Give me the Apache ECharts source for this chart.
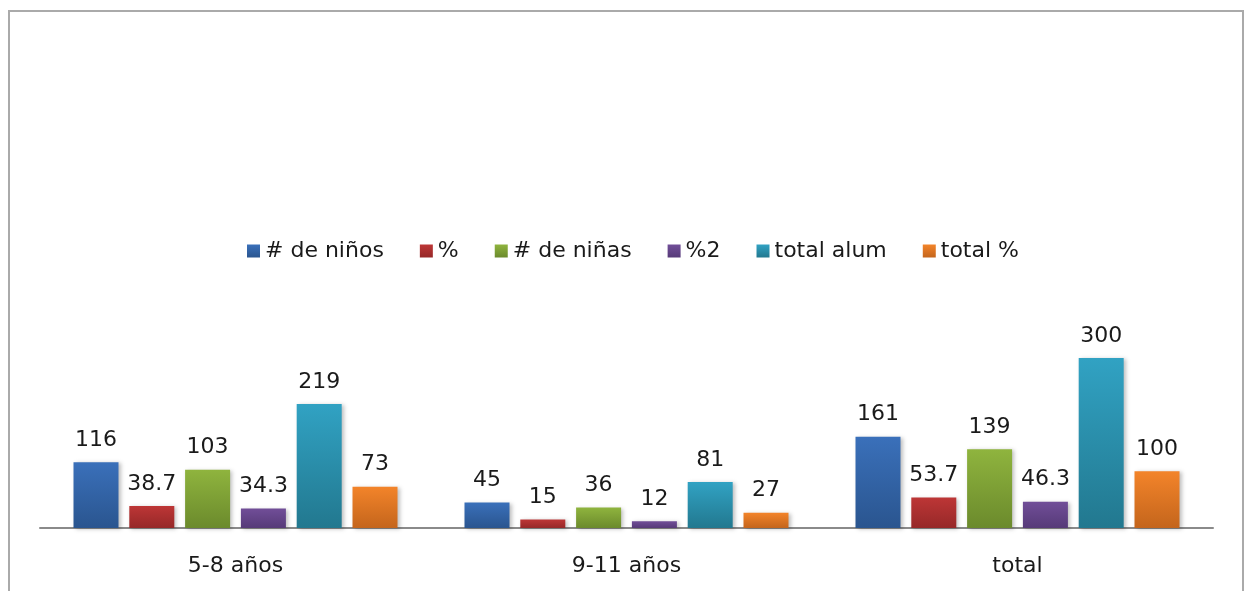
<!DOCTYPE html>
<html>
<head>
<meta charset="utf-8">
<script src="https://cdn.jsdelivr.net/npm/echarts@6/dist/echarts.min.js"></script>
<style>
  html, body { margin: 0; padding: 0; background: #fff; }
  #chart { width: 1246px; height: 591px; }
</style>
</head>
<body>
<div id="chart"></div>
<script>
// Age groups on the category axis
const categories = ['5-8 años', '9-11 años', 'total'];

// One array per series
const ninos      = [116, 45, 161];
const pctNinos   = [38.7, 15, 53.7];
const ninas      = [103, 36, 139];
const pctNinas   = [34.3, 12, 46.3];
const totalAlum  = [219, 81, 300];
const totalPct   = [73, 27, 100];

const seriesNames = ['# de niños', '%', '# de niñas', '%2', 'total alum', 'total %'];
const seriesData  = [ninos, pctNinos, ninas, pctNinas, totalAlum, totalPct];

// Top / bottom gradient stops for each bar colour
const palette = [
  ['#3a70ba', '#2a558f'],
  ['#bd3636', '#962828'],
  ['#8fb43e', '#6b8a2c'],
  ['#714e98', '#563a78'],
  ['#31a2c3', '#22788f'],
  ['#f3842a', '#c4651c']
];

const FONT = 'DejaVu Sans';

const series = seriesData.map((data, i) => ({
  name: seriesNames[i],
  type: 'bar',
  data: data,
  barWidth: 45,
  barGap: '24%',
  itemStyle: {
    color: new echarts.graphic.LinearGradient(0, 0, 0, 1, [
      { offset: 0, color: palette[i][0] },
      { offset: 1, color: palette[i][1] }
    ]),
    shadowColor: 'rgba(0,0,0,0.25)',
    shadowBlur: 4,
    shadowOffsetX: 2,
    shadowOffsetY: 1
  },
  label: {
    show: true,
    position: 'top',
    distance: 11,
    color: '#1a1a1a',
    fontFamily: FONT,
    fontSize: 22
  },
  emphasis: { disabled: true }
}));

const chart = echarts.init(document.getElementById('chart'), null, { renderer: 'canvas' });

chart.setOption({
  animation: false,
  backgroundColor: '#ffffff',
  color: palette.map(p => p[0]),
  graphic: [{
    type: 'rect',
    shape: { x: 9, y: 11, width: 1234, height: 620 },
    style: { fill: 'none', stroke: '#aaaaaa', lineWidth: 2 },
    silent: true,
    z: 100
  }],
  legend: {
    data: seriesNames,
    top: 235,
    left: 242,
    icon: 'rect',
    itemWidth: 13,
    itemHeight: 13,
    itemGap: 36,
    textStyle: { fontFamily: FONT, fontSize: 22, color: '#1a1a1a' }
  },
  grid: { left: 40, right: 33, top: 358, bottom: 63 },
  xAxis: {
    type: 'category',
    data: categories,
    axisLine: { show: true, lineStyle: { color: '#8a8a8a', width: 2 } },
    axisTick: { show: false },
    axisLabel: { fontFamily: FONT, fontSize: 22, color: '#1a1a1a', margin: 27 }
  },
  yAxis: {
    type: 'value',
    min: 0,
    max: 300,
    show: false,
    splitLine: { show: false }
  },
  series: series
});
</script>
</body>
</html>
